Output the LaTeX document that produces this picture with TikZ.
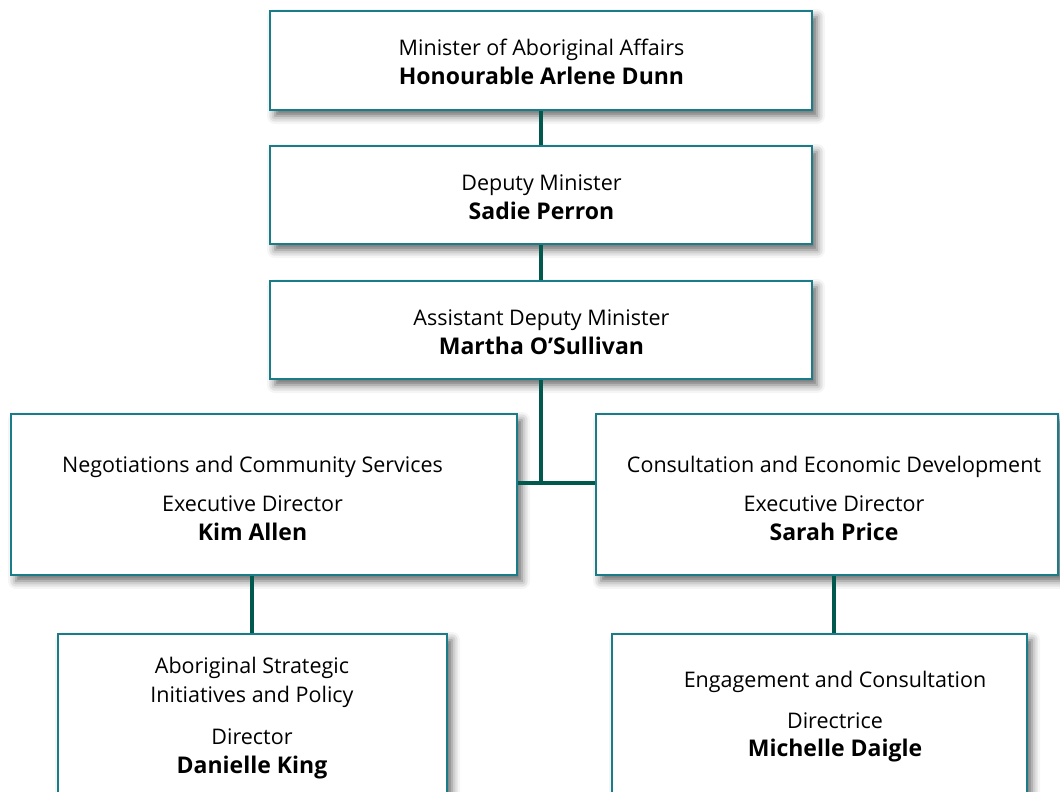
\documentclass[tikz,border=0pt]{standalone}
\usepackage{fontspec}
\setmainfont{Open Sans}
\usetikzlibrary{shadows.blur}
\definecolor{boxline}{HTML}{1B7C89}
\definecolor{connline}{HTML}{00594C}
\newcommand{\nm}[1]{{\fontsize{23}{28.5}\selectfont\bfseries #1}}
\tikzset{
  orgbox/.style={draw=boxline, line width=2.6pt, fill=white, rectangle,
    blur shadow={shadow xshift=5pt, shadow yshift=-6pt, shadow blur radius=8pt, shadow opacity=60}},
  conn/.style={draw=connline, line width=4.6pt},
  txt/.style={align=center, font=\fontsize{21.5}{28.5}\selectfont, text=black, inner sep=0pt}
}
\begin{document}
\begin{tikzpicture}[x=1pt,y=-1pt]
\useasboundingbox (0,0) rectangle (1060,792);
\coordinate (j) at (541,483);
\coordinate (jl) at (252,575);
\coordinate (jr) at (834,575);
% boxes
\node[orgbox, minimum width=542pt, minimum height=99pt] (b1) at (541,60.5) {};
\node[orgbox, minimum width=542pt, minimum height=98pt] (b2) at (541,195) {};
\node[orgbox, minimum width=542pt, minimum height=98pt] (b3) at (541,330) {};
\node[orgbox, minimum width=506pt, minimum height=161pt] (b4) at (264,494.5) {};
\node[orgbox, minimum width=462pt, minimum height=161pt] (b5) at (827,494.5) {};
\node[orgbox, minimum width=389pt, minimum height=200pt] (b6) at (252.5,734) {};
\node[orgbox, minimum width=415pt, minimum height=200pt] (b7) at (819.5,734) {};
% connectors
\draw[conn] (b1.south) -- (b2.north);
\draw[conn] (b2.south) -- (b3.north);
\draw[conn] (b3.south) -- (j);
\draw[conn] (b4.east |- j) -- (b5.west |- j);
\draw[conn] (jl |- b4.south) -- (jl |- b6.north);
\draw[conn] (jr |- b5.south) -- (jr |- b7.north);
% texts
\node[txt] (t1) at (541.5,62) {Minister of Aboriginal Affairs\\\nm{Honourable Arlene Dunn}};
\node[txt] (t2) at (541.5,197) {Deputy Minister\\\nm{Sadie Perron}};
\node[txt] (t3) at (541.5,332) {Assistant Deputy Minister\\\nm{Martha O’Sullivan}};
\node[txt] (t4) at (252.5,498) {Negotiations and Community Services\\[11pt]Executive Director\\\nm{Kim Allen}};
\node[txt] (t5) at (834,498) {Consultation and Economic Development\\[11pt]Executive Director\\\nm{Sarah Price}};
\node[txt] (t6) at (252,718) {Aboriginal Strategic\\Initiatives and Policy\\[14pt]Director\\\nm{Danielle King}};
\node[txt] (t7) at (835,717) {Engagement and Consultation\\[12pt]Directrice\\\nm{Michelle Daigle}};
\end{tikzpicture}
\end{document}
